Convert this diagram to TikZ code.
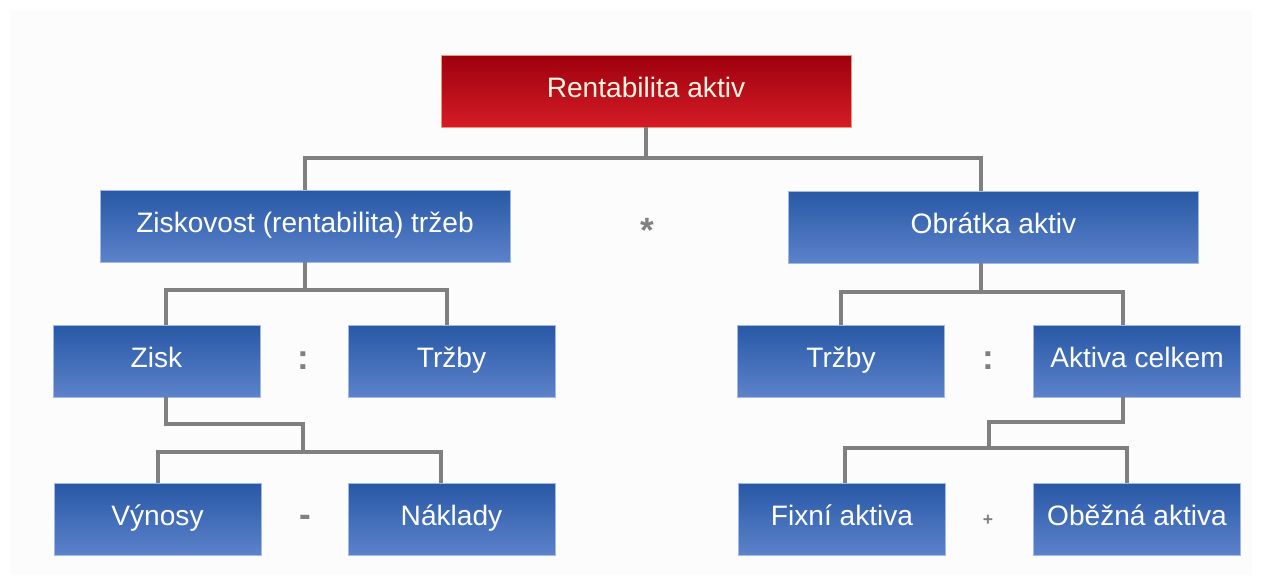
\documentclass[tikz,border=0pt]{standalone}
\usepackage{fontspec}
\setmainfont{Liberation Sans}
\definecolor{linkgray}{RGB}{128,128,128}
\definecolor{redtop}{RGB}{158,0,14}
\definecolor{redbot}{RGB}{212,28,38}
\definecolor{redline}{RGB}{240,150,120}
\definecolor{bluetop}{RGB}{40,88,166}
\definecolor{bluebot}{RGB}{92,130,202}
\definecolor{blueline}{RGB}{160,185,232}
\definecolor{backfill}{RGB}{252,252,252}
\begin{document}
\begin{tikzpicture}[x=0.02cm,y=-0.02cm,
    box/.style={minimum height=1.44cm, inner sep=0pt, text height=11.5pt, text depth=4pt, text=white, font=\fontsize{16}{19}\selectfont},
    redbox/.style={box, minimum width=8.2cm, top color=redtop, bottom color=redbot, draw=redline, line width=0.5pt, text={rgb,255:red,255;green,245;blue,225}},
    bluebox/.style={box, top color=bluetop, bottom color=bluebot, draw=blueline, line width=0.5pt},
    widebox/.style={bluebox, minimum width=8.2cm},
    smallbox/.style={bluebox, minimum width=4.14cm},
    link/.style={draw=linkgray, line width=0.08cm},
    op/.style={text=linkgray, font=\bfseries\fontsize{20}{22}\selectfont}]
        \useasboundingbox (0,0) rectangle (1262,585);
        \fill[backfill] (10,10) rectangle (1252,575);

        \node[redbox] (R) at (646,91) {Rentabilita aktiv};
        \node[widebox] (Z) at (305,226) {Ziskovost (rentabilita) tržeb};
        \node[widebox] (O) at (993.5,227) {Obrátka aktiv};
        \node[op] (M) at (647,230) {*};

        \node[smallbox] (Zi) at (156.5,361) {Zisk};
        \node[smallbox] (T1) at (451.5,361) {Tržby};
        \node[op] (D1) at (303,361) {:};
        \node[smallbox] (T2) at (841,361) {Tržby};
        \node[smallbox] (A) at (1137,361) {Aktiva celkem};
        \node[op] (D2) at (988,361) {:};

        \node[smallbox] (V) at (157.5,519) {Výnosy};
        \node[smallbox] (N) at (451.5,519) {Náklady};
        \node[op] (S) at (305,521) {-};
        \node[smallbox] (F) at (842,519) {Fixní aktiva};
        \node[smallbox] (Ob) at (1137,519) {Oběžná aktiva};
        \node[op, font=\bfseries\fontsize{10}{12}\selectfont] (P) at (988,520) {+};

        \coordinate (J3) at (303,452);
        \coordinate (J5) at (989,448);

        \draw[link] (R.south) -- ++(0,31) coordinate (J1);
        \draw[link] (Z.north) |- (J1) -| ([xshift=-0.25cm]O.north);
        \draw[link] (Z.south) -- ++(0,28) coordinate (J2);
        \draw[link] ([xshift=0.19cm]Zi.north) |- (J2) -| ([xshift=-0.09cm]T1.north);
        \draw[link] ([xshift=-0.25cm]O.south) -- ++(0,29) coordinate (J4);
        \draw[link] (T2.north) |- (J4) -| ([xshift=-0.28cm]A.north);
        \draw[link] ([xshift=0.19cm]Zi.south) -- ++(0,27) -| (J3);
        \draw[link] (V.north) |- (J3) -| ([xshift=-0.21cm]N.north);
        \draw[link] ([xshift=-0.28cm]A.south) -- ++(0,25) -| (J5);
        \draw[link] ([xshift=0.06cm]F.north) |- (J5) -| ([xshift=-0.2cm]Ob.north);
      \end{tikzpicture}
\end{document}
